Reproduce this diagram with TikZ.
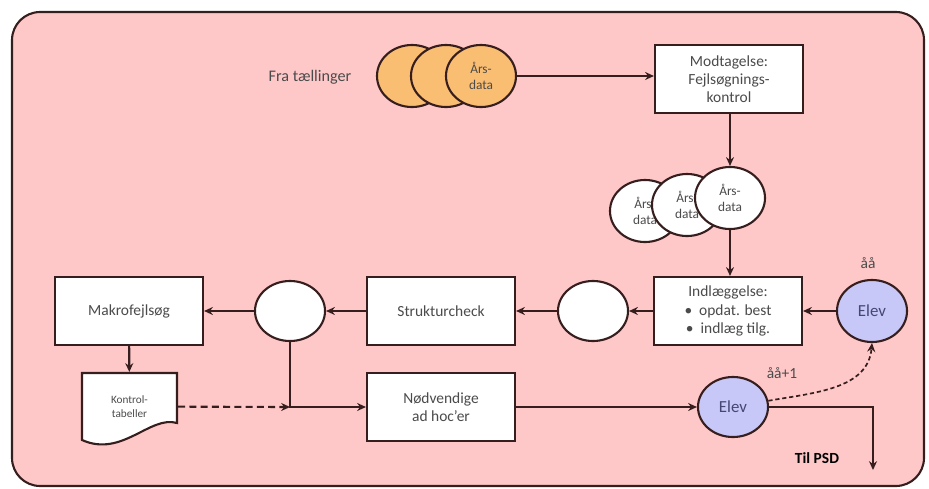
\documentclass[tikz,border=0pt]{standalone}
\usepackage{fontspec}
\setmainfont{Carlito}
\usetikzlibrary{shapes.geometric, arrows.meta}
\definecolor{bg}{RGB}{255,200,200}
\definecolor{ln}{RGB}{55,30,30}
\definecolor{orng}{RGB}{250,190,115}
\definecolor{lav}{RGB}{200,200,248}
\definecolor{txt}{RGB}{75,75,75}
\definecolor{eltxt}{RGB}{70,70,115}

\begin{document}
\begin{tikzpicture}[x=0.025cm,y=-0.025cm,color=ln,line width=1.5pt,
    block/.style={align=center,rectangle,draw,fill=white,text=txt,minimum width=3.7cm,minimum height=1.7cm,font=\fontsize{11}{13}\selectfont},
    disc/.style={ellipse,draw,fill=white,align=center,inner sep=0pt,text=txt,minimum width=1.75cm,minimum height=1.55cm,font=\fontsize{9.5}{11}\selectfont},
    elev/.style={disc,fill=lav,text=eltxt,font=\fontsize{12}{14}\selectfont},
    flow/.style={-{Stealth[length=2.2mm,width=2mm]}}]
        \useasboundingbox (0,0) rectangle (929,488);
        \draw[fill=bg,rounded corners=20pt] (12,12) rectangle (924,486);
        \node[text=txt,font=\fontsize{11.5}{13}\selectfont] (fra) at (310,77) {Fra tællinger};
        \node[disc,fill=orng] (or1) at (412,76) {};
        \node[disc,fill=orng] (or2) at (446,76) {};
        \node[disc,fill=orng] (or3) at (481,76) {Års-\\data};
        \node[block] (modt) at (729,79) {Modtagelse:\\Fejlsøgnings-\\kontrol};
        \node[disc] (d1) at (645,211) {Års-\\data};
        \node[disc] (d2) at (687,205) {Års-\\data};
        \node[disc] (d3) at (730,198) {Års-\\data};
        \node[block] (ind) at (728,311) {Indlæggelse:\\\textbullet\ \ opdat. best\\\textbullet\ \ indlæg tilg.};
        \node[elev] (E1) at (872,311) {Elev};
        \node[disc,minimum height=1.5cm] (c2) at (593,311) {};
        \node[block] (struk) at (441,311) {Strukturcheck};
        \node[disc,minimum height=1.5cm] (c1) at (290,311) {};
        \node[block] (makro) at (129,311) {Makrofejlsøg};
        \filldraw[fill=white] (82,373) -- (177,373) -- (177,423) .. controls (150,415) and (122,458) .. (82,440) -- cycle;
        \node[align=center,inner sep=0pt,text=txt,minimum width=2.375cm,minimum height=1.675cm,font=\fontsize{8}{10}\selectfont] (kontrol) at (129.5,406.5) {Kontrol-\\tabeller};
        \node[block] (nod) at (441,407) {Nødvendige\\ad hoc’er};
        \node[elev,minimum height=1.5cm] (E2) at (733,407) {Elev};
        \node[text=txt,font=\fontsize{11}{13}\selectfont] (aa) at (868,263) {åå};
        \node[text=txt,font=\fontsize{11}{13}\selectfont] (aa1) at (782,373) {åå+1};
        \node[text=black,font=\fontsize{11}{13}\selectfont\bfseries] (psd) at (817,458) {Til PSD};
        \coordinate (j) at (c1 |- nod);
        \coordinate (ned) at (873,407);
        \coordinate (ud) at (873,470);
        \draw[flow] (or3.east) -- (or3.east -| modt.west);
        \draw[flow] (d3.north |- modt.south) -- (d3.north);
        \draw[flow] (d3.south) -- (d3.south |- ind.north);
        \draw[flow] (E1) -- (ind);
        \draw[flow] (ind) -- (c2);
        \draw[flow] (c2) -- (struk);
        \draw[flow] (struk) -- (c1);
        \draw[flow] (c1) -- (makro);
        \draw[flow] (makro) -- (kontrol);
        \draw[flow,dashed,dash pattern=on 5pt off 3pt] (kontrol) -- (j);
        \draw[flow] (c1) -- (j) -- (nod);
        \draw[flow] (nod) -- (E2);
        \draw[flow] (E2) -- (ned) -- (ud);
        \draw[flow,dashed,line width=1.2pt,dash pattern=on 3pt off 2pt] (E2.10) to[out=10,in=-95] (E1.south);
    \end{tikzpicture}
\end{document}
